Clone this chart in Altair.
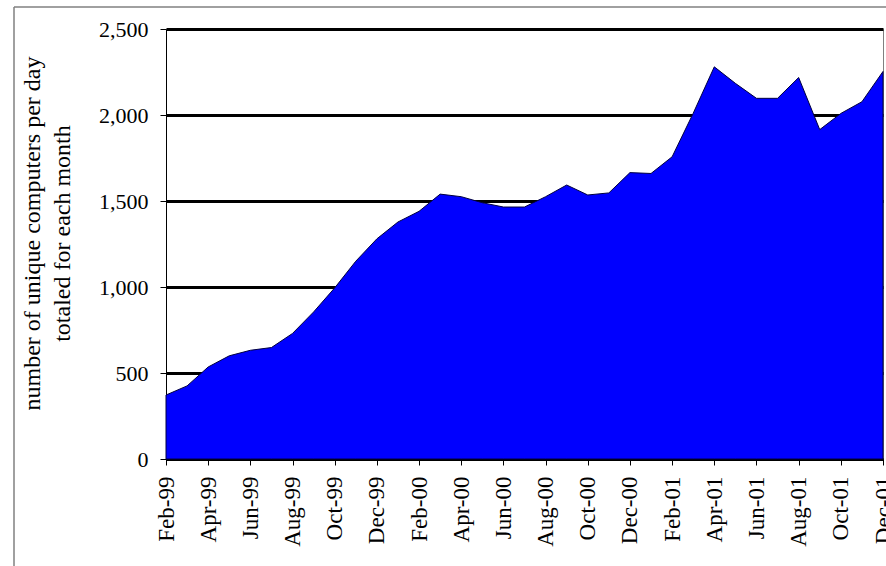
import altair as alt
import pandas as pd

months = [
    "Feb-99", "Mar-99", "Apr-99", "May-99", "Jun-99", "Jul-99", "Aug-99", "Sep-99",
    "Oct-99", "Nov-99", "Dec-99", "Jan-00", "Feb-00", "Mar-00", "Apr-00", "May-00",
    "Jun-00", "Jul-00", "Aug-00", "Sep-00", "Oct-00", "Nov-00", "Dec-00", "Jan-01",
    "Feb-01", "Mar-01", "Apr-01", "May-01", "Jun-01", "Jul-01", "Aug-01", "Sep-01",
    "Oct-01", "Nov-01", "Dec-01",
]
computers = [
    372, 425, 535, 600, 632, 648, 730, 855,
    995, 1150, 1280, 1378, 1440, 1540, 1525, 1490,
    1465, 1465, 1525, 1593, 1535, 1547, 1665, 1660,
    1757, 2010, 2280, 2184, 2097, 2097, 2218, 1915,
    2009, 2077, 2253,
]
tick_labels = months[::2]
y_ticks = [0, 500, 1000, 1500, 2000, 2500]
y_title = ["number of unique computers per day", "totaled for each month"]

df = pd.DataFrame({"month": months, "computers": computers})

area = alt.Chart(df).mark_area(
    color="#0000FF", stroke="#000040", strokeWidth=1
).encode(
    x=alt.X(
        "month:O",
        sort=months,
        scale=alt.Scale(type="point", padding=0),
        axis=alt.Axis(
            values=tick_labels,
            labelAngle=-90,
            labelFontSize=23,
            labelPadding=11,
            tickSize=6,
            tickColor="black",
            domainColor="black",
            title=None,
            grid=False,
        ),
    ),
    y=alt.Y(
        "computers:Q",
        scale=alt.Scale(domain=[0, 2500], nice=False),
        axis=alt.Axis(
            values=y_ticks,
            format=",d",
            labelFontSize=22,
            labelPadding=12,
            tickSize=6,
            tickColor="black",
            domainColor="black",
            grid=True,
            gridColor="black",
            gridWidth=3,
            title=y_title,
            titleFontSize=24,
            titleLineHeight=30,
            titlePadding=24,
            titleY=204,
        ),
    ),
)

frame = pd.DataFrame({"k": [0]})
left_border = alt.Chart(frame).mark_rule(color="#808080", strokeWidth=1.5).encode(
    x=alt.value(-152), y=alt.value(-22), y2=alt.value(560)
)
top_border = alt.Chart(frame).mark_rule(color="#808080", strokeWidth=1.5).encode(
    x=alt.value(-152), x2=alt.value(740), y=alt.value(-22)
)

chart = alt.layer(area, left_border, top_border).properties(
    width=717,
    height=430,
    autosize=alt.AutoSizeParams(type="none"),
    padding={"left": 166, "top": 29, "right": 3, "bottom": 107},
).configure_view(
    stroke="#808080", strokeWidth=1
).configure_axis(
    labelFont="Liberation Serif",
    titleFont="Liberation Serif",
    labelColor="black",
    titleColor="black",
    titleFontWeight="normal",
)

chart.save("out.html", embed_options={"renderer": "svg", "actions": False})
